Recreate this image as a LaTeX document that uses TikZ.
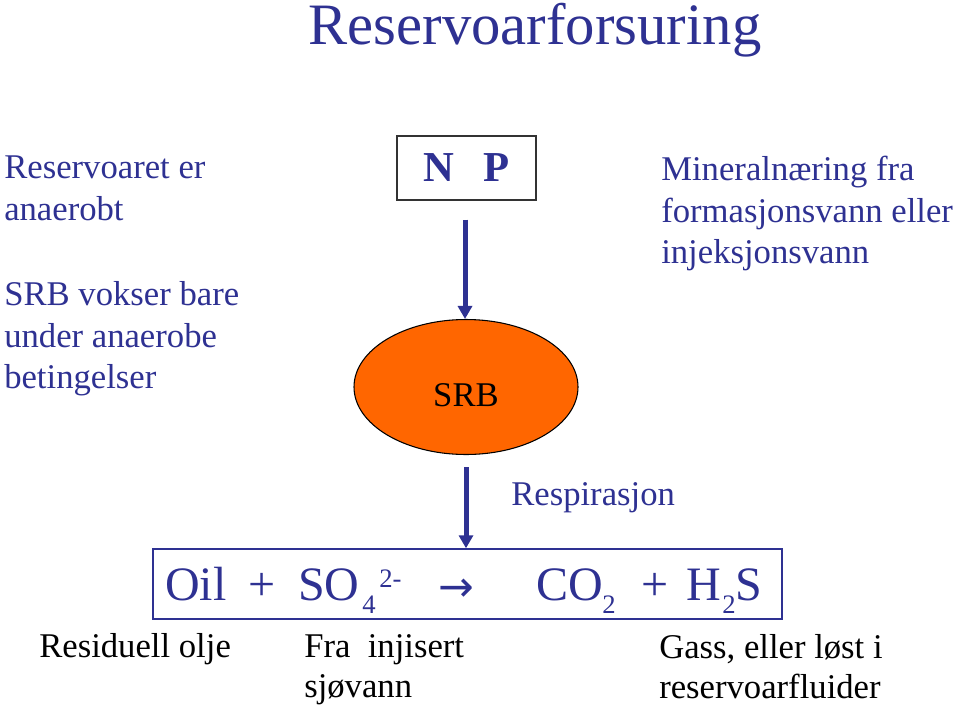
\documentclass[tikz,border=0pt]{standalone}
\usepackage{fontspec}
\setmainfont{Liberation Serif}
\newfontfamily\arrowfont{DejaVu Sans}
\usetikzlibrary{arrows.meta,shapes.geometric,calc}
\definecolor{navy}{RGB}{46,49,146}
\definecolor{srborange}{RGB}{255,102,0}
\tikzset{
  txt/.style={inner sep=0pt, anchor=base west, font=\fontsize{26}{31}\selectfont},
  navytxt/.style={txt, text=navy},
  blacktxt/.style={txt, text=black},
  eqtxt/.style={inner sep=0pt, anchor=base west, text=navy, font=\fontsize{36}{40}\selectfont},
  eqsmall/.style={inner sep=0pt, anchor=base west, text=navy, font=\fontsize{20}{22}\selectfont},
  flowarrow/.style={draw=navy, line width=3.75pt, -{Triangle[length=9.75pt,width=10.5pt]}}
}
\begin{document}
\begin{tikzpicture}[x=0.75pt,y=-0.75pt]
\path[use as bounding box] (0,0) rectangle (960,711);

% title
\node[inner sep=0pt, anchor=base, text=navy, font=\fontsize{44}{48}\selectfont] (title) at (535,44) {Reservoarforsuring};

% left text
\node[navytxt] (l1) at (4,178) {Reservoaret er};
\node[navytxt] (l2) at (4,220) {anaerobt};
\node[navytxt] (l3) at (4,305) {SRB vokser bare};
\node[navytxt] (l4) at (4,347) {under anaerobe};
\node[navytxt] (l5) at (4,388) {betingelser};

% right text
\node[navytxt] (m1) at (661,180) {Mineralnæring fra};
\node[navytxt] (m2) at (661,222) {formasjonsvann eller};
\node[navytxt] (m3) at (661,263) {injeksjonsvann};

% N P box
\node[draw=black!80, line width=0.9pt, minimum width=104.25pt, minimum height=48pt, inner sep=0pt,
      text=navy, font=\bfseries\fontsize{32}{36}\selectfont] (np) at (466.5,168) {N\hspace{0.7em}P};

% SRB ellipse
\node[ellipse, draw=black, line width=0.8pt, fill=srborange, minimum width=168pt, minimum height=101.25pt, inner sep=0pt] (srb) at (466,387) {};
\node[inner sep=0pt, anchor=base, font=\fontsize{26}{31}\selectfont] (srbtxt) at (466,406) {SRB};

% equation box
\node[draw=navy, line width=1.1pt, minimum width=471.75pt, minimum height=52.5pt, inner sep=0pt] (eq) at (467.5,584) {};

% arrows
\draw[flowarrow] ($(np.south)+(-1.5,19)$) -- (srb.north -| {$(np.south)+(-1.5,0)$});
\draw[flowarrow] ($(srb.south)+(0,12)$) -- (eq.north -| srb.south);

\node[navytxt] (resp) at (511,505) {Respirasjon};

% equation
\node[eqtxt] (oil) at (165,600) {Oil};
\node[eqtxt, anchor=base] (plus1) at (262,600) {+};
\node[eqtxt] (so) at (298,600) {SO};
\node[eqsmall] (four) at (362,613) {4};
\node[eqsmall] (chg) at (379,587) {2-};
\node[inner sep=0pt, anchor=base, text=navy, font=\arrowfont\fontsize{32}{36}\selectfont] (rarr) at (456,601) {→};
\node[eqtxt] (co) at (536,600) {CO};
\node[eqsmall] (two1) at (602,613) {2};
\node[eqtxt, anchor=base] (plus2) at (655,600) {+};
\node[eqtxt] (h) at (686,600) {H};
\node[eqsmall] (two2) at (722,613) {2};
\node[eqtxt] (s) at (735,600) {S};

% bottom labels
\node[blacktxt] (res) at (39,657) {Residuell olje};
\node[blacktxt] (fra1) at (304,657) {Fra\ \ injisert};
\node[blacktxt] (fra2) at (304,697) {sjøvann};
\node[blacktxt] (gass1) at (659,658) {Gass, eller løst i};
\node[blacktxt] (gass2) at (659,698) {reservoarfluider};
\end{tikzpicture}
\end{document}
